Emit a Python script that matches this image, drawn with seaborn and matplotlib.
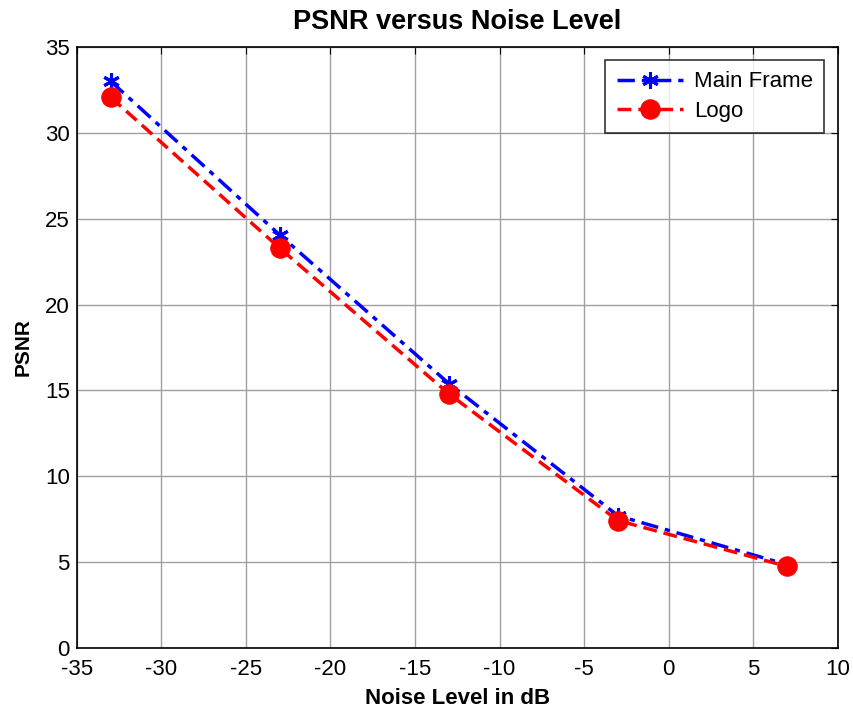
import matplotlib
matplotlib.use("Agg")
import matplotlib.pyplot as plt
import seaborn as sns
import pandas as pd

noise_db = [-33, -23, -13, -3, 7]
main_frame = [33.0, 24.05, 15.4, 7.7, 4.85]
logo = [32.07, 23.28, 14.8, 7.42, 4.75]

sns.set_style("white")
plt.rcParams['font.family'] = ['Liberation Sans', 'DejaVu Sans']
plt.rcParams['axes.unicode_minus'] = False
plt.rcParams['text.color'] = 'black'
plt.rcParams['axes.labelcolor'] = 'black'
plt.rcParams['xtick.color'] = 'black'
plt.rcParams['ytick.color'] = 'black'

fig = plt.figure(figsize=(8.54, 7.13), dpi=100)
ax = fig.add_axes([0.090, 0.0912, 0.891, 0.843])

df = pd.DataFrame({"x": noise_db + noise_db,
                   "y": main_frame + logo,
                   "series": ["Main Frame"] * 5 + ["Logo"] * 5})

sns.lineplot(data=df[df.series == "Main Frame"], x="x", y="y", ax=ax, color="blue",
             linestyle=(0, (5, 2, 1.5, 2)), linewidth=2.5, marker=(6, 2, 0), markersize=12,
             markeredgewidth=2.2, markeredgecolor="blue", label="Main Frame")
sns.lineplot(data=df[df.series == "Logo"], x="x", y="y", ax=ax, color="red",
             linestyle=(0, (4, 2)), linewidth=2.5, marker="o", markersize=14,
             markeredgecolor="red", label="Logo")

ax.set_xlim(-35, 10)
ax.set_ylim(0, 35)
ax.set_xticks(range(-35, 11, 5))
ax.set_yticks(range(0, 36, 5))
ax.grid(True, color="#a0a0a0", linewidth=1)
ax.tick_params(direction="in", labelsize=16, length=5, top=True, right=True)
ax.tick_params(axis="x", pad=8)
ax.tick_params(axis="y", pad=5)
for s in ax.spines.values():
    s.set_color("black")
    s.set_linewidth(1.2)

ax.set_xlabel("Noise Level in dB", fontsize=16, fontweight="bold", labelpad=6)
ax.set_ylabel("PSNR", fontsize=15, fontweight="bold", labelpad=9)
ax.set_title("PSNR versus Noise Level", fontsize=19.5, fontweight="bold", pad=13)

leg = ax.legend(loc="upper right", fontsize=16, frameon=True, fancybox=False,
                edgecolor="black", handlelength=3, borderaxespad=0.6,
                borderpad=0.5, labelspacing=0.4, handletextpad=0.5)
leg.get_frame().set_linewidth(1.2)

fig.savefig("out.png", dpi=100)
